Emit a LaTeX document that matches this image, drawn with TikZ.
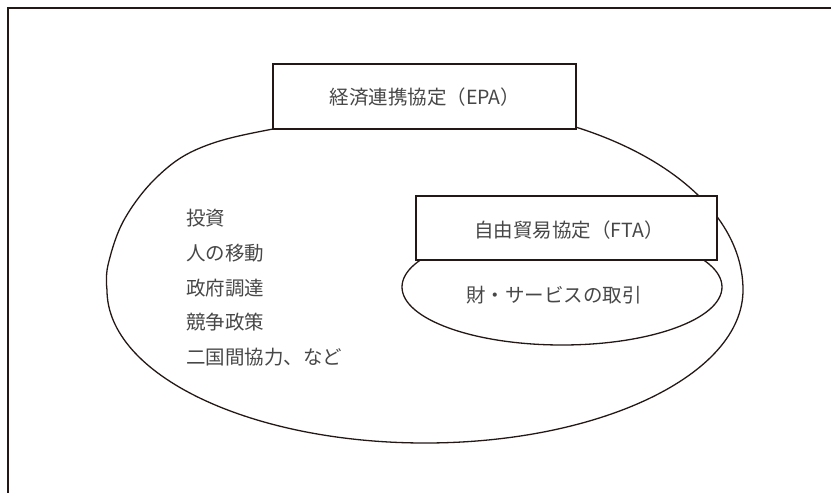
\documentclass[tikz,border=0pt]{standalone}
\usepackage{fontspec}
\newfontfamily\jp{Noto Sans CJK JP}
\usetikzlibrary{shapes.geometric}
\definecolor{ink}{HTML}{231815}
\definecolor{txt}{HTML}{474747}
\tikzset{
  lbl/.style={font=\jp\fontsize{19.5}{23}\selectfont, text=txt, inner sep=0pt},
  boxnode/.style={draw=ink, line width=1.4pt, fill=white, inner sep=0pt},
  outline/.style={draw=ink, line width=1.3pt}
}
\begin{document}
\begin{tikzpicture}[x=1pt,y=-1pt]
\useasboundingbox (0,0) rectangle (831,493);
% frame
\coordinate (fbl) at (8,493);
\coordinate (ftl) at (8,8);
\coordinate (ftr) at (831,8);
\draw[ink, line width=1.1pt] (fbl) -- (ftl) -- (ftr);
% large EPA region
\draw[outline, line join=round]
  (107,290) arc[start angle=180, end angle=0, x radius=318, y radius=153]
  arc[start angle=0, end angle=-90, x radius=318, y radius=185]
  plot[smooth, tension=0.6] coordinates {(425,105) (273,129) (200,148) (157,177) (124,220) (108,265) (107,290)};
% small FTA region
\node[outline, ellipse, minimum width=320pt, minimum height=116pt, inner sep=0pt] (fta) at (562,287) {};
\node[lbl] (goods) at (554,295) {財・サービスの取引};
% boxes
\node[boxnode, minimum width=303pt, minimum height=65pt] (epa) at (424.5,96.5) {};
\node[lbl] (epat) at (425,97) {経済連携協定（EPA）};
\node[boxnode, minimum width=301pt, minimum height=64pt] (ftabox) at (566.5,228) {};
\node[lbl] (ftat) at (569,230) {自由貿易協定（FTA）};
% list
\node[lbl, anchor=west] (l1) at (186,218) {投資};
\node[lbl, anchor=west] (l2) at (186,253) {人の移動};
\node[lbl, anchor=west] (l3) at (186,288) {政府調達};
\node[lbl, anchor=west] (l4) at (186,322) {競争政策};
\node[lbl, anchor=west] (l5) at (186,357) {二国間協力、など};
\end{tikzpicture}
\end{document}
